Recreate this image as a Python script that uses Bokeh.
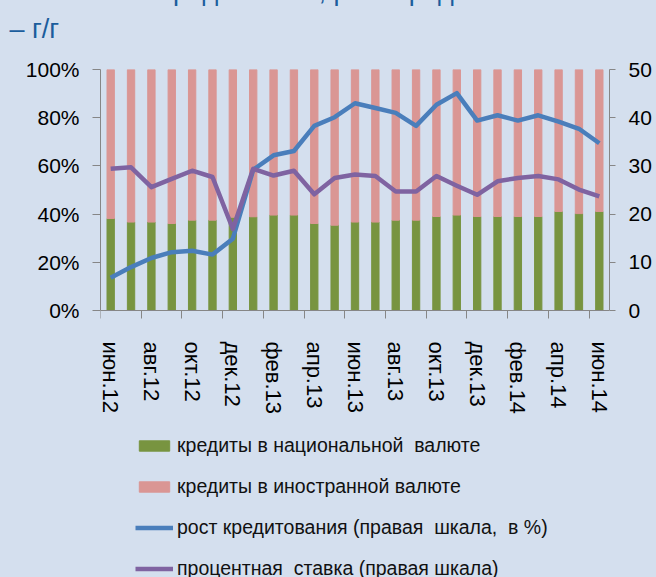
from bokeh.plotting import figure
from bokeh.models import (Range1d, LinearAxis, FixedTicker, Legend, LegendItem,
                          Title, ColumnDataSource, GlobalInlineStyleSheet)
from bokeh.embed import file_html
from bokeh.resources import INLINE

# ---- data ----
months = ["июн.12", "июл.12", "авг.12", "сен.12", "окт.12", "ноя.12", "дек.12",
          "янв.13", "фев.13", "мар.13", "апр.13", "май.13", "июн.13", "июл.13",
          "авг.13", "сен.13", "окт.13", "ноя.13", "дек.13", "янв.14", "фев.14",
          "мар.14", "апр.14", "май.14", "июн.14"]
national = [38.2, 36.7, 36.7, 36.1, 37.5, 37.5, 38.7, 38.9, 39.6, 39.6, 36.1, 35.4,
            36.7, 36.7, 37.5, 37.5, 39.0, 39.6, 39.0, 39.0, 39.0, 39.0, 41.1, 40.2, 41.1]
foreign = [100 - v for v in national]
growth = [6.8, 9.0, 10.9, 12.1, 12.4, 11.6, 14.9, 29.2, 32.2, 33.1, 38.3, 40.1,
          43.0, 42.0, 41.0, 38.3, 42.7, 45.1, 39.4, 40.5, 39.4, 40.5, 39.2, 37.7, 34.7]
rate = [29.4, 29.7, 25.6, 27.3, 29.0, 27.7, 16.9, 29.4, 28.0, 29.0, 24.1, 27.5,
        28.2, 27.9, 24.7, 24.7, 27.9, 25.9, 24.0, 26.8, 27.5, 27.9, 27.2, 25.1, 23.7]
left_ticks = [0, 20, 40, 60, 80, 100]
right_ticks = [0, 10, 20, 30, 40, 50]
legend_labels = ["кредиты в национальной  валюте", "кредиты в иностранной валюте",
                 "рост кредитования (правая  шкала,  в %)",
                 "процентная  ставка (правая шкала)"]
title_text = "Банковские кредиты  в %, рост кредитования\n– г/г"

BG = "#d4dfee"
GREEN = "#789440"
PINK = "#da9694"
BLUE = "#4a7ebb"
PURPLE = "#7f63a1"
AXIS = "#868686"
TITLE = "#1b5d9c"
FONT = "Liberation Sans"

# layout (pixels): plot area top at 69, zero line at 310, window bottom at 577
M = 80                       # canvas part pushed above the window (title cut like the reference)
TOP, ZERO, BOTTOM = 69, 310, 577
FRAME_H = BOTTOM - TOP       # frame runs to the window bottom; legend lives inside it
PX_PER_PCT = (ZERO - TOP) / 100.0
y_low = -(BOTTOM - ZERO) / PX_PER_PCT

n = len(months)
xs = [i + 0.5 for i in range(n)]
src = ColumnDataSource(dict(x=xs, nat=national,
                            total=[a + b for a, b in zip(national, foreign)],
                            growth=growth, rate=rate))

p = figure(width=656, height=FRAME_H + TOP + M + 120, frame_width=509, frame_height=FRAME_H,
           output_backend="svg", toolbar_location=None,
           x_range=Range1d(0, n), y_range=Range1d(y_low, 100),
           min_border_left=100, min_border_right=47, min_border_top=TOP + M,
           min_border_bottom=0, styles={"margin-top": f"-{M}px"})
p.stylesheets = [GlobalInlineStyleSheet(
    css="html, body {overflow: hidden; background: %s;}" % BG)]
p.background_fill_color = BG
p.border_fill_color = BG
p.outline_line_color = None
p.xgrid.visible = False
p.ygrid.visible = False
p.extra_y_ranges = {"right": Range1d(y_low / 2, 50)}

r_nat = p.vbar(x="x", bottom=0, top="nat", width=0.36, color=GREEN, source=src)
r_for = p.vbar(x="x", bottom="nat", top="total", width=0.36, color=PINK, source=src)
r_gr = p.line(x="x", y="growth", line_width=4.5, color=BLUE, line_join="round",
              y_range_name="right", source=src)
r_rt = p.line(x="x", y="rate", line_width=4.5, color=PURPLE, line_join="round",
              y_range_name="right", source=src)

# title
p.add_layout(Title(text=title_text, align="left", offset=-91, standoff=52,
                   vertical_align="bottom", text_font=FONT, text_font_size="27px",
                   text_font_style="normal", text_color=TITLE,
                   text_line_height=1.25), "above")

xa = p.xaxis[0]
xa.fixed_location = 0
xa.ticker = FixedTicker(ticks=[i + 0.5 for i in range(0, n, 2)],
                        minor_ticks=[i for i in range(0, n, 2)])
xa.major_label_overrides = {i + 0.5: months[i] for i in range(0, n, 2)}
xa.major_label_orientation = "vertical"
xa.major_tick_out = 0
xa.major_tick_in = 0
xa.major_tick_line_color = None
xa.minor_tick_out = 8
xa.minor_tick_in = 0
xa.minor_tick_line_color = AXIS
xa.axis_line_color = AXIS
xa.major_label_standoff = 23
xa.major_label_text_font = FONT
xa.major_label_text_font_size = "22px"
xa.major_label_text_color = "#000000"

ya = p.yaxis[0]
ya.bounds = (0, 100)
ya.ticker = FixedTicker(ticks=left_ticks)
ya.major_label_overrides = {tk: f"{tk}%" for tk in left_ticks}
ya.major_tick_out = 8
ya.major_tick_in = 0
ya.minor_tick_line_color = None
ya.axis_line_color = AXIS
ya.major_tick_line_color = AXIS
ya.major_label_standoff = 13
ya.major_label_text_font = FONT
ya.major_label_text_font_size = "21px"
ya.major_label_text_color = "#000000"

ra = LinearAxis(y_range_name="right", ticker=FixedTicker(ticks=right_ticks), bounds=(0, 50))
ra.major_tick_out = 6
ra.major_tick_in = 0
ra.minor_tick_line_color = None
ra.axis_line_color = AXIS
ra.major_tick_line_color = AXIS
ra.major_label_standoff = 13
ra.major_label_text_font = FONT
ra.major_label_text_font_size = "21px"
ra.major_label_text_color = "#000000"
p.add_layout(ra, "right")

legend = Legend(items=[LegendItem(label=legend_labels[0], renderers=[r_nat]),
                       LegendItem(label=legend_labels[1], renderers=[r_for]),
                       LegendItem(label=legend_labels[2], renderers=[r_gr]),
                       LegendItem(label=legend_labels[3], renderers=[r_rt])],
                location=(35, -3), orientation="vertical",
                glyph_width=38, glyph_height=13, label_standoff=4, spacing=18,
                padding=0, margin=0, border_line_color=None,
                background_fill_alpha=0, label_text_font=FONT,
                label_text_font_size="19.5px", label_text_color="#111111")
p.add_layout(legend, "center")

open("out.html", "w").write(file_html(p, INLINE))
